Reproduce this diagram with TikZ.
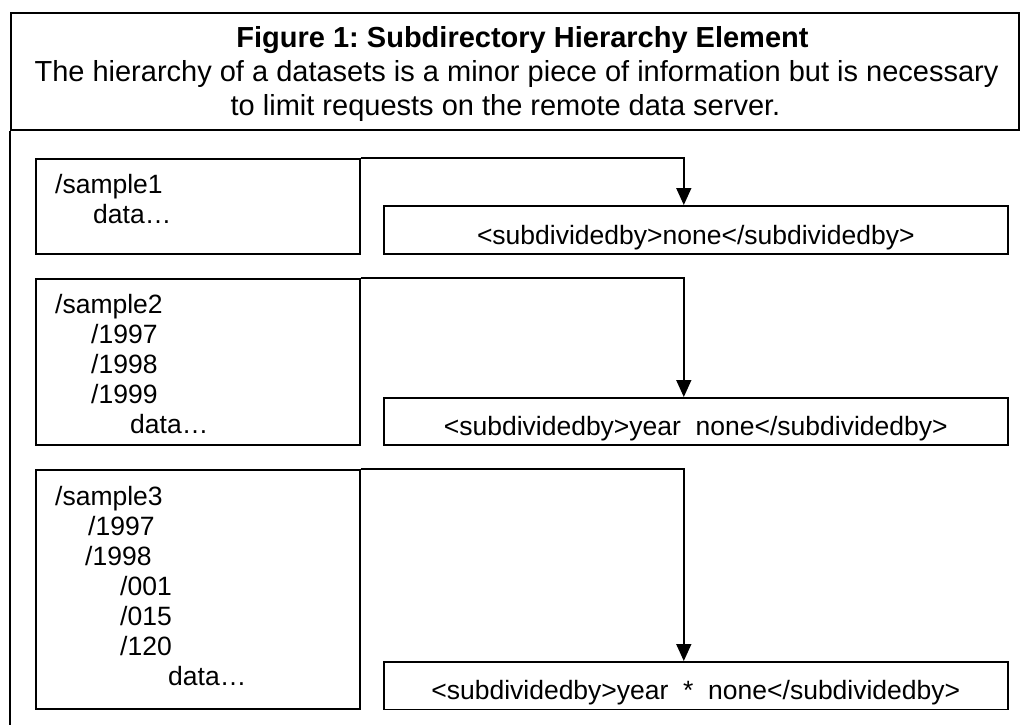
\documentclass[tikz,border=0pt]{standalone}
\usepackage{fontspec}
\setmainfont{Liberation Sans}
\usetikzlibrary{arrows.meta}
\frenchspacing

\tikzset{
  frame/.style={draw=black, line width=1.6pt},
  dirbox/.style={draw=black, line width=1.6pt, anchor=north west, inner sep=0pt},
  tagbox/.style={draw=black, line width=1.6pt, anchor=north west, inner sep=0pt,
                 minimum width=624pt},
  dirtxt/.style={anchor=base west, inner sep=0pt, font=\fontsize{26.5}{30}\selectfont},
  tagtxt/.style={anchor=base, inner sep=0pt, font=\fontsize{26.5}{30}\selectfont},
  headtxt/.style={anchor=base, inner sep=0pt, font=\fontsize{29}{34}\selectfont},
  link/.style={draw=black, line width=1.6pt, -{Triangle[length=17pt,width=15pt]}}
}

\begin{document}
\begin{tikzpicture}[x=1pt, y=-1pt]
  \useasboundingbox (0,0) rectangle (1021,725);

  % caption panel
  \node[frame, anchor=north west, inner sep=0pt, minimum width=1008pt, minimum height=117pt]
    (head) at (10,12) {};
  \coordinate (foot) at (10,726);
  \draw[frame] (head.south west) -- (foot);

  \node[headtxt, font=\bfseries\fontsize{29}{34}\selectfont] (title) at (522.5,48)
    {Figure 1: Subdirectory Hierarchy Element};
  \node[headtxt] (cap1) at (516.5,82)
    {The hierarchy of a datasets is a minor piece of information but is necessary};
  \node[headtxt] (cap2) at (505.5,115)
    {to limit requests on the remote data server.};

  % directory trees
  \node[dirbox, minimum width=324pt, minimum height=95pt]  (b1) at (35,158) {};
  \node[dirbox, minimum width=324pt, minimum height=166pt] (b2) at (35,278) {};
  \node[dirbox, minimum width=324pt, minimum height=239pt] (b3) at (35,469) {};

  \node[dirtxt] (b1a) at (55,193) {/sample1};
  \node[dirtxt] (b1b) at (93,223) {data…};

  \node[dirtxt] (b2a) at (55,313) {/sample2};
  \node[dirtxt] (b2b) at (91,343) {/1997};
  \node[dirtxt] (b2c) at (91,373) {/1998};
  \node[dirtxt] (b2d) at (91,403) {/1999};
  \node[dirtxt] (b2e) at (130,433) {data…};

  \node[dirtxt] (b3a) at (55,505) {/sample3};
  \node[dirtxt] (b3b) at (88,535) {/1997};
  \node[dirtxt] (b3c) at (85,565) {/1998};
  \node[dirtxt] (b3d) at (120,595) {/001};
  \node[dirtxt] (b3e) at (120,625) {/015};
  \node[dirtxt] (b3f) at (120,655) {/120};
  \node[dirtxt] (b3g) at (168,685) {data…};

  % subdividedby elements
  \node[tagbox, minimum height=48pt]   (r1) at (383,205) {};
  \node[tagbox, minimum height=47pt]   (r2) at (383,397) {};
  \node[tagbox, minimum height=47.5pt] (r3) at (383,661) {};

  \node[tagtxt] (r1t) at ([yshift=10.5pt]r1.south)
    {<subdividedby>none</subdividedby>};
  \node[tagtxt] (r2t) at ([yshift=10.5pt]r2.south)
    {<subdividedby>year\ \ none</subdividedby>};
  \node[tagtxt] (r3t) at ([yshift=10.5pt]r3.south)
    {<subdividedby>year\ \ *\ \ none</subdividedby>};

  % connectors
  \draw[link] (b1.north east) -| ([xshift=-12pt]r1.north);
  \draw[link] (b2.north east) -| ([xshift=-12pt]r2.north);
  \draw[link] (b3.north east) -| ([xshift=-12pt]r3.north);
\end{tikzpicture}
\end{document}
